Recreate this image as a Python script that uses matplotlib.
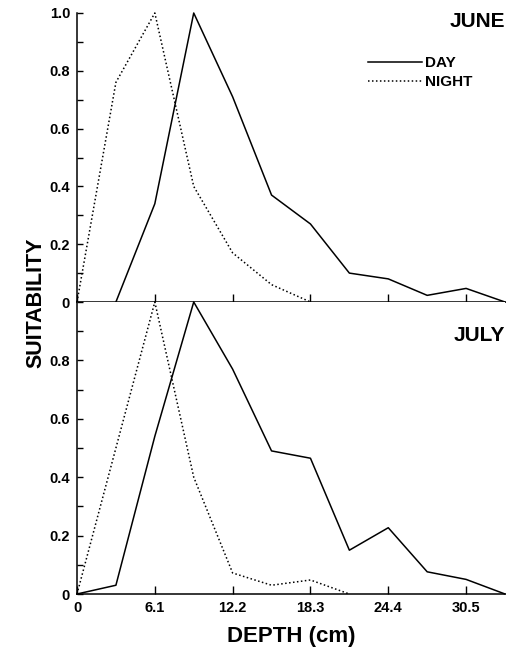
import numpy as np
import matplotlib
matplotlib.use('Agg')
import matplotlib.pyplot as plt
from matplotlib.ticker import MultipleLocator

plt.rcParams['font.family'] = ['Liberation Sans', 'DejaVu Sans']
plt.rcParams['font.weight'] = 'bold'

# depth classes (cm), one every 3.05 cm
depth = [0, 3.05, 6.1, 9.15, 12.2, 15.25, 18.3, 21.35, 24.4, 27.45, 30.5, 33.55]

june_day = [None, 0.0, 0.34, 1.0, 0.71, 0.37, 0.27, 0.10, 0.08, 0.023, 0.047, 0.0]
june_night = [0.0, 0.76, 1.0, 0.40, 0.17, 0.06, 0.0]

july_day = [0.0, 0.03, 0.54, 1.0, 0.77, 0.49, 0.465, 0.15, 0.227, 0.076, 0.05, 0.0]
july_night = [0.0, 0.5, 1.0, 0.40, 0.072, 0.03, 0.048, 0.0]

xticks = [0, 6.1, 12.2, 18.3, 24.4, 30.5]
xticklabels = ['0', '6.1', '12.2', '18.3', '24.4', '30.5']

W, H = 508, 651
fig = plt.figure(figsize=(W / 100, H / 100), dpi=100)

left, right = 77, 505
top1, mid, bot2 = 13, 302, 594
ax1 = fig.add_axes([left / W, 1 - mid / H, (right - left) / W, (mid - top1) / H])
ax2 = fig.add_axes([left / W, 1 - bot2 / H, (right - left) / W, (bot2 - mid) / H])

dotted = (0, (1, 1.6))


def style(ax, ylabels):
    ax.set_xlim(0, 33.55)
    ax.set_ylim(0, 1)
    for s in ['top', 'right']:
        ax.spines[s].set_visible(False)
    for s in ['left', 'bottom']:
        ax.spines[s].set_linewidth(1.1)
    ax.set_xticks(xticks)
    ax.set_yticks([0, 0.2, 0.4, 0.6, 0.8, 1.0])
    ax.set_yticklabels(ylabels)
    ax.yaxis.set_minor_locator(MultipleLocator(0.1))
    ax.tick_params(axis='both', which='both', direction='in', width=1.0,
                   labelsize=10.5, pad=5)
    ax.tick_params(axis='y', which='major', length=4)
    ax.tick_params(axis='y', which='minor', length=4)
    ax.tick_params(axis='x', which='major', length=6)


# June
d = [x for x, v in zip(depth, june_day) if v is not None]
v = [v for v in june_day if v is not None]
ax1.plot(d, v, color='black', lw=1.1, clip_on=False, label='DAY')
ax1.plot(depth[:len(june_night)], june_night, color='black', lw=1.1,
         linestyle=dotted, clip_on=False, label='NIGHT')
style(ax1, ['0', '0.2', '0.4', '0.6', '0.8', '1.0'])
ax1.set_xticklabels([])
ax1.text(1.0, 0.97, 'JUNE', transform=ax1.transAxes, ha='right', va='center',
         fontsize=15, fontweight='bold')
ax1.legend(loc='upper left', bbox_to_anchor=(0.68, 0.85), frameon=False,
           borderpad=0, borderaxespad=0, handlelength=3.5, handletextpad=0.2,
           labelspacing=0.3, prop={'size': 11, 'weight': 'bold'})

# July
ax2.plot(depth, july_day, color='black', lw=1.1, clip_on=False)
ax2.plot(depth[:len(july_night)], july_night, color='black', lw=1.1,
         linestyle=dotted, clip_on=False)
style(ax2, ['0', '0.2', '0.4', '0.6', '0.8', ''])
ax2.set_xticklabels(xticklabels)
ax2.text(1.0, 0.885, 'JULY', transform=ax2.transAxes, ha='right', va='center',
         fontsize=15, fontweight='bold')
ax2.set_xlabel('DEPTH (cm)', fontsize=16, fontweight='bold', labelpad=8)

fig.text(36 / W, 1 - 303 / H, 'SUITABILITY', rotation=90, ha='center',
         va='center', fontsize=15.5, fontweight='bold')

fig.savefig('out.png', dpi=100)
